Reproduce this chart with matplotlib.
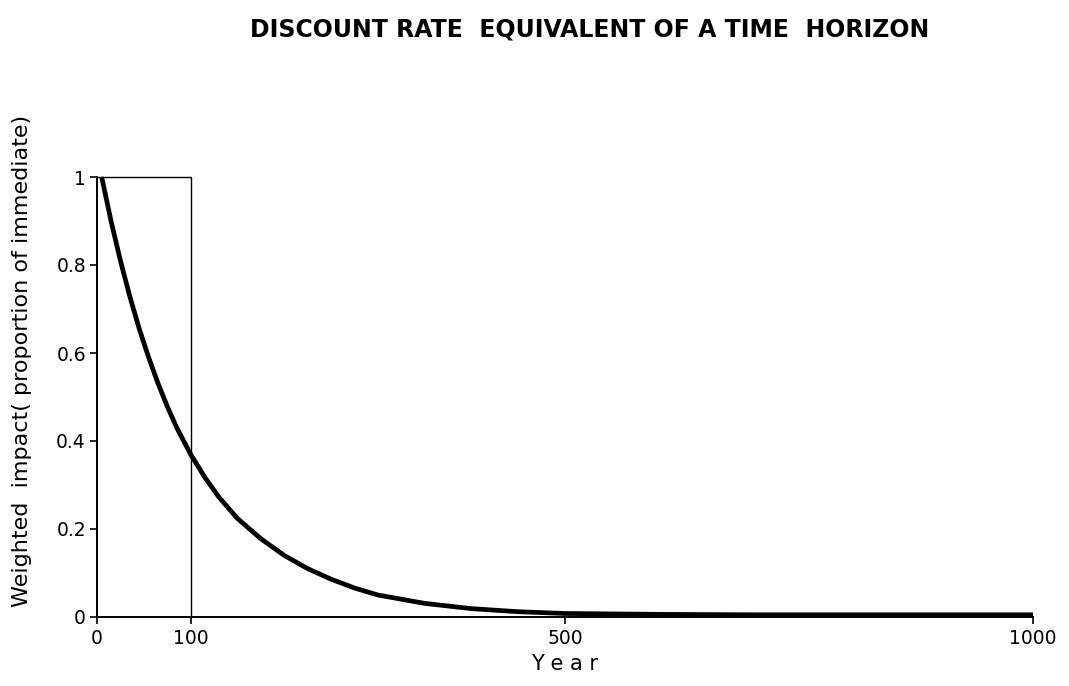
import matplotlib
matplotlib.use("Agg")
import matplotlib.pyplot as plt

# Values
years = [5, 15, 25, 35, 45, 55, 65, 75, 85, 100, 115, 130, 150, 175, 200,
         225, 250, 275, 300, 350, 400, 450, 500, 600, 700, 800, 900, 1000]
impact = [1.0, 0.900, 0.810, 0.729, 0.656, 0.591, 0.532, 0.479, 0.431,
          0.370, 0.318, 0.273, 0.224, 0.178, 0.140, 0.110, 0.086, 0.066,
          0.050, 0.031, 0.019, 0.012, 0.008, 0.006, 0.005, 0.005, 0.005, 0.005]
horizon_years = [0, 100, 100]
horizon_impact = [1, 1, 0]

xticks = [0, 100, 500, 1000]
xtick_labels = ["0", "100", "500", "1000"]
yticks = [0, 0.2, 0.4, 0.6, 0.8, 1]
ytick_labels = ["0", "0.2", "0.4", "0.6", "0.8", "1"]

title = "DISCOUNT RATE  EQUIVALENT OF A TIME  HORIZON"
xlabel = "Y e a r"
ylabel = "Weighted  impact( proportion of immediate)"

plt.rcParams['font.family'] = ['DejaVu Sans']

fig = plt.figure(figsize=(10.69, 6.86), dpi=100)
ax = fig.add_axes([97 / 1069, 69 / 686, 936 / 1069, 440 / 686])

ax.plot(horizon_years, horizon_impact, color="black", lw=1.0, clip_on=False)
ax.plot(years, impact, color="black", lw=3.4, clip_on=False,
        solid_capstyle="butt", solid_joinstyle="round")

ax.set_xlim(0, 1000)
ax.set_ylim(0, 1)
for s in ["top", "right"]:
    ax.spines[s].set_visible(False)
for s in ["left", "bottom"]:
    ax.spines[s].set_linewidth(1.4)

ax.set_xticks(xticks)
ax.set_xticklabels(xtick_labels)
ax.set_yticks(yticks)
ax.set_yticklabels(ytick_labels)
ax.tick_params(axis="both", direction="out", length=5, width=1.2,
               labelsize=13.5, colors="black")
ax.tick_params(axis="y", pad=3)
ax.tick_params(axis="x", pad=4)

ax.set_xlabel(xlabel, fontsize=15, labelpad=4)
fig.text(22 / 1069, 1 - 361 / 686, ylabel, rotation=90, ha="center",
         va="center", fontsize=16)

fig.text(590 / 1069, 1 - 30 / 686, title, ha="center", va="center",
         fontsize=17, fontweight="bold")

fig.savefig("out.png", dpi=100, facecolor="white")
